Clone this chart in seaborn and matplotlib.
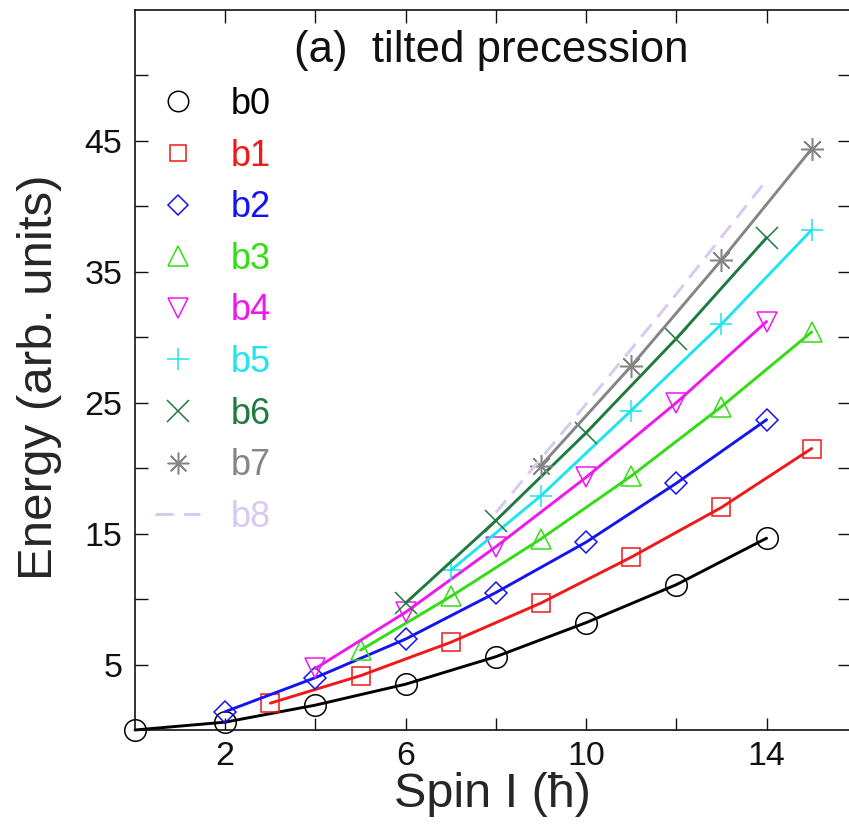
import matplotlib
matplotlib.use("Agg")
import matplotlib.pyplot as plt
from matplotlib.lines import Line2D
import seaborn as sns
import pandas as pd

# ---- data ----
labels = ["b0", "b1", "b2", "b3", "b4", "b5", "b6", "b7", "b8"]
I0 = [0, 2, 4, 6, 8, 10, 12, 14]
E0 = [0.0, 0.6, 1.9, 3.5, 5.6, 8.2, 11.1, 14.65]
I1 = [3, 5, 7, 9, 11, 13, 15]
E1 = [2.05, 4.15, 6.7, 9.7, 13.2, 17.0, 21.5]
I2 = [2, 4, 6, 8, 10, 12, 14]
E2 = [1.4, 4.0, 6.95, 10.5, 14.35, 18.85, 23.7]
I3 = [5, 7, 9, 11, 13, 15]
E3 = [6.1, 10.2, 14.6, 19.4, 24.7, 30.4]
I4 = [4, 6, 8, 10, 12, 14]
E4 = [4.7, 9.0, 14.0, 19.3, 25.0, 31.2]
I5 = [7, 9, 11, 13, 15]
E5 = [12.2, 17.9, 24.4, 31.0, 38.2]
I6 = [6, 8, 10, 12, 14]
E6 = [9.7, 16.0, 22.7, 29.9, 37.6]
I7 = [9, 11, 13, 15]
E7 = [20.2, 27.8, 35.9, 44.4]
I8 = [8, 10, 12, 14]
E8 = [16.6, 24.9, 33.3, 42.0]

xticks = [2, 4, 6, 8, 10, 12, 14]
xticklabels = ["2", "", "6", "", "10", "", "14"]
yticks = [5, 10, 15, 20, 25, 30, 35, 40, 45, 50]
yticklabels = ["5", "", "15", "", "25", "", "35", "", "45", ""]

spins = [I0, I1, I2, I3, I4, I5, I6, I7, I8]
energies = [E0, E1, E2, E3, E4, E5, E6, E7, E8]

# ---- styles ----
colors = ["#000000", "#f01818", "#1414f0", "#33dd14", "#ee18ee",
          "#1fe3ee", "#1f7a3f", "#858585", "#d9c8ef"]
markers = ["o", "s", "D", "^", "v", "+", "x", (8, 2, 0), None]
msizes = [15.5, 12.5, 11.0, 15.0, 15.0, 16.5, 16.5, 16.5, 0]

sns.set_style("ticks")
plt.rcParams["font.family"] = ["Liberation Sans", "DejaVu Sans"]

fig = plt.figure(figsize=(8.49, 8.36), dpi=100)
ax = fig.add_axes([135 / 849, 1 - 730 / 836, 715 / 849, 720 / 836])

frames = []
for lab, xs, ys in zip(labels, spins, energies):
    frames.append(pd.DataFrame({"spin": xs, "energy": ys, "band": lab}))
df = pd.concat(frames, ignore_index=True)

LW = 2.1
handles = []
for i, lab in enumerate(labels):
    sub = df[df["band"] == lab]
    mk = markers[i]
    kw = dict(color=colors[i], linewidth=LW, ax=ax, legend=False,
              estimator=None, sort=True)
    if mk is None:
        sns.lineplot(data=sub, x="spin", y="energy", dashes=False,
                     linestyle=(0, (5.5, 3.2)), **kw)
        handles.append(Line2D([], [], color=colors[i], linewidth=LW,
                              linestyle=(0, (6.2, 3.6))))
    else:
        sns.lineplot(data=sub, x="spin", y="energy", marker=mk,
                     markersize=msizes[i], markerfacecolor="none",
                     markeredgecolor=colors[i], markeredgewidth=1.1,
                     **kw)
        handles.append(Line2D([], [], color=colors[i], linestyle="none",
                              marker=mk, markersize=msizes[i] * 0.95,
                              markerfacecolor="none",
                              markeredgecolor=colors[i],
                              markeredgewidth=1.1))
for ln in ax.lines:
    ln.set_clip_on(False)

ax.set_xlim(0, 15.85)
ax.set_ylim(0, 55)
ax.set_xticks(xticks)
ax.set_xticklabels(xticklabels)
ax.set_yticks(yticks)
ax.set_yticklabels(yticklabels)
ax.tick_params(direction="in", length=9, width=1.0, labelsize=24.5,
               top=True, right=True, colors="#111111")
ax.tick_params(axis="x", pad=8)
ax.tick_params(axis="y", pad=9)
for sp in ax.spines.values():
    sp.set_linewidth(1.2)
    sp.set_color("#111111")
    sp.set_visible(True)

ax.set_xlabel("Spin I (ħ)", fontsize=35, labelpad=0)
ax.set_ylabel("Energy (arb. units)", fontsize=35.5)
ax.yaxis.set_label_coords(-0.102, 0.49)

ax.text(0.223, 0.944, "(a)  tilted precession", transform=ax.transAxes,
        ha="left", va="center", fontsize=31.5, color="#111111")

leg = ax.legend(handles, labels, loc="upper left",
                bbox_to_anchor=(0.028, 0.893), frameon=False,
                fontsize=26, handlelength=1.25, handletextpad=0.85,
                labelspacing=0.46, borderpad=0.0, borderaxespad=0.0,
                labelcolor="linecolor")

fig.savefig("out.png", dpi=100)
